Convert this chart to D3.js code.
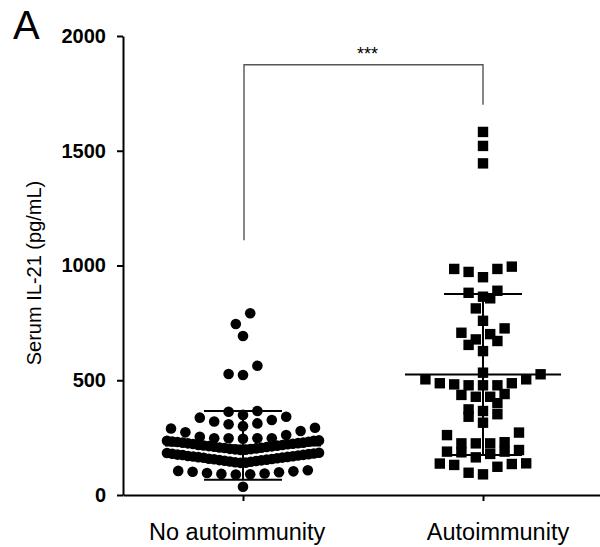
<!DOCTYPE html>
<html>
<head>
<meta charset="utf-8">
<script src="https://cdn.jsdelivr.net/npm/d3@7"></script>
<style>
  body { margin: 0; background: #fff; }
  svg { display: block; font-family: "Liberation Sans", Arial, sans-serif; }
</style>
</head>
<body>
<svg id="chart"></svg>
<script>
// groups on the x axis
var groups = ["No autoimmunity", "Autoimmunity"];

// serum IL-21 (pg/mL)
var noAutoValues = [
  792, 745, 693, 563, 527, 523,
  366, 363, 349, 341, 337, 327, 320, 312, 308, 300, 293, 290, 279, 273, 261, 254, 247, 247, 247, 247, 245,
  238, 236, 236, 233, 232, 231, 228, 228, 226, 225, 223, 222, 221, 218, 218, 216, 215, 213, 212, 210,
  209, 207, 206, 205, 203, 201, 200, 199, 197, 196,
  184, 183, 181, 180, 178, 176, 175, 174, 172, 170, 169, 168, 166, 165, 163, 162, 160, 158, 157, 156,
  154, 152, 151, 149, 148, 146, 145, 143, 141, 140,
  108, 105, 103, 101, 99, 96, 94, 92, 90, 89,
  36
];
var autoValues = [
  1582, 1521, 1445,
  995, 985, 985, 972, 949,
  890, 881, 864, 857, 813,
  759, 726, 707, 701, 678, 671, 654, 627,
  533, 526, 504, 504, 487, 487, 482, 478, 478, 478,
  440, 436, 428, 428, 400, 373, 366, 352, 341, 315,
  272, 261, 230, 225, 225, 225,
  196, 189, 189, 186, 179, 164,
  138, 137, 135, 131, 123, 97, 90
];

// mean and SD bars as drawn in the figure
var means = [216, 525];
var sds = [150, 351];

var yTicks = [0, 500, 1000, 1500, 2000];

// significance bracket
var bracketTop = 1875;
var bracketEnds = [1110, 1700];
var sigLabel = "***";

var W = 600, H = 547;
var mLeft = 123, mTop = 36, mBottom = 495;

var svg = d3.select("#chart").attr("width", W).attr("height", H);

var y = d3.scaleLinear().domain([0, 2000]).range([mBottom, mTop]);
var x = d3.scalePoint().domain(groups).range([mLeft, 603]).padding(0.5);

// spread points of similar value into rows, lowest in the middle
function rowLayout(vals, span, step, maxHalf) {
  var sorted = vals.slice().sort(d3.ascending);
  var rows = [], cur = null;
  sorted.forEach(function(v) {
    if (!cur || v - cur[0] > span) { cur = [v]; rows.push(cur); }
    else cur.push(v);
  });
  var out = [];
  rows.forEach(function(r) {
    var n = r.length;
    var s = n > 1 ? Math.min(step, 2 * maxHalf / (n - 1)) : 0;
    var slots = d3.range(n).map(function(i) { return (i - (n - 1) / 2) * s; });
    slots.sort(function(a, b) { return Math.abs(a) - Math.abs(b) || a - b; });
    r.forEach(function(v, i) { out.push({ v: v, dx: slots[i] }); });
  });
  return out;
}

var noAutoPts = rowLayout(noAutoValues, 48, 14.4, 76);
var autoPts = rowLayout(autoValues, 48, 14.4, 76);

// axes
var yAxis = svg.append("g")
  .attr("transform", "translate(" + mLeft + ",0)")
  .call(d3.axisLeft(y).tickValues(yTicks).tickFormat(d3.format("d"))
    .tickSize(6).tickSizeOuter(0).tickPadding(11));
yAxis.select(".domain").attr("stroke-width", 2);
yAxis.selectAll(".tick line").attr("stroke-width", 2);
yAxis.selectAll(".tick text")
  .attr("font-size", 20).attr("font-weight", "bold")
  .attr("font-family", "Liberation Sans, Arial, sans-serif");

var xAxis = svg.append("g")
  .attr("transform", "translate(0," + mBottom + ")")
  .call(d3.axisBottom(x).tickSize(6).tickSizeOuter(0).tickPadding(22));
xAxis.select(".domain").attr("stroke-width", 2);
xAxis.selectAll(".tick line").attr("stroke-width", 2);
xAxis.selectAll(".tick text")
  .attr("font-size", 23.5)
  .attr("font-family", "Liberation Sans, Arial, sans-serif")
  .attr("dx", function(d, i) { return i === 0 ? -6.3 : 14.5; });

// points
svg.append("g").selectAll("circle")
  .data(noAutoPts)
  .enter().append("circle")
  .attr("cx", function(d) { return x(groups[0]) + d.dx; })
  .attr("cy", function(d) { return y(d.v); })
  .attr("r", 5.3)
  .attr("fill", "#000");

svg.append("g").selectAll("rect")
  .data(autoPts)
  .enter().append("rect")
  .attr("x", function(d) { return x(groups[1]) + d.dx - 5.2; })
  .attr("y", function(d) { return y(d.v) - 5.2; })
  .attr("width", 10.4)
  .attr("height", 10.4)
  .attr("fill", "#000");

// mean and SD
var stats = groups.map(function(g, i) { return { g: g, m: means[i], sd: sds[i] }; });
var bars = svg.append("g").attr("stroke", "#000").attr("stroke-width", 2);
stats.forEach(function(s) {
  var cx = x(s.g);
  bars.append("line").attr("x1", cx - 78).attr("x2", cx + 78).attr("y1", y(s.m)).attr("y2", y(s.m));
  bars.append("line").attr("x1", cx).attr("x2", cx).attr("y1", y(s.m + s.sd)).attr("y2", y(s.m - s.sd));
  bars.append("line").attr("x1", cx - 39).attr("x2", cx + 39).attr("y1", y(s.m + s.sd)).attr("y2", y(s.m + s.sd));
  bars.append("line").attr("x1", cx - 39).attr("x2", cx + 39).attr("y1", y(s.m - s.sd)).attr("y2", y(s.m - s.sd));
});

// significance bracket
var bx0 = x(groups[0]) + 1, bx1 = x(groups[1]);
svg.append("path")
  .attr("d", "M" + bx0 + "," + y(bracketEnds[0]) + "V" + y(bracketTop) + "H" + bx1 + "V" + y(bracketEnds[1]))
  .attr("fill", "none").attr("stroke", "#555").attr("stroke-width", 1.4);
svg.append("text")
  .attr("x", (bx0 + bx1) / 2 + 4).attr("y", y(bracketTop) - 5)
  .attr("text-anchor", "middle").attr("font-size", 18)
  .text(sigLabel);

// y title
svg.append("text")
  .attr("transform", "translate(41,273) rotate(-90)")
  .attr("text-anchor", "middle").attr("font-size", 20)
  .text("Serum IL-21 (pg/mL)");

// panel letter
svg.append("text")
  .attr("x", 13).attr("y", 39).attr("font-size", 40)
  .text("A");
</script>
</body>
</html>
